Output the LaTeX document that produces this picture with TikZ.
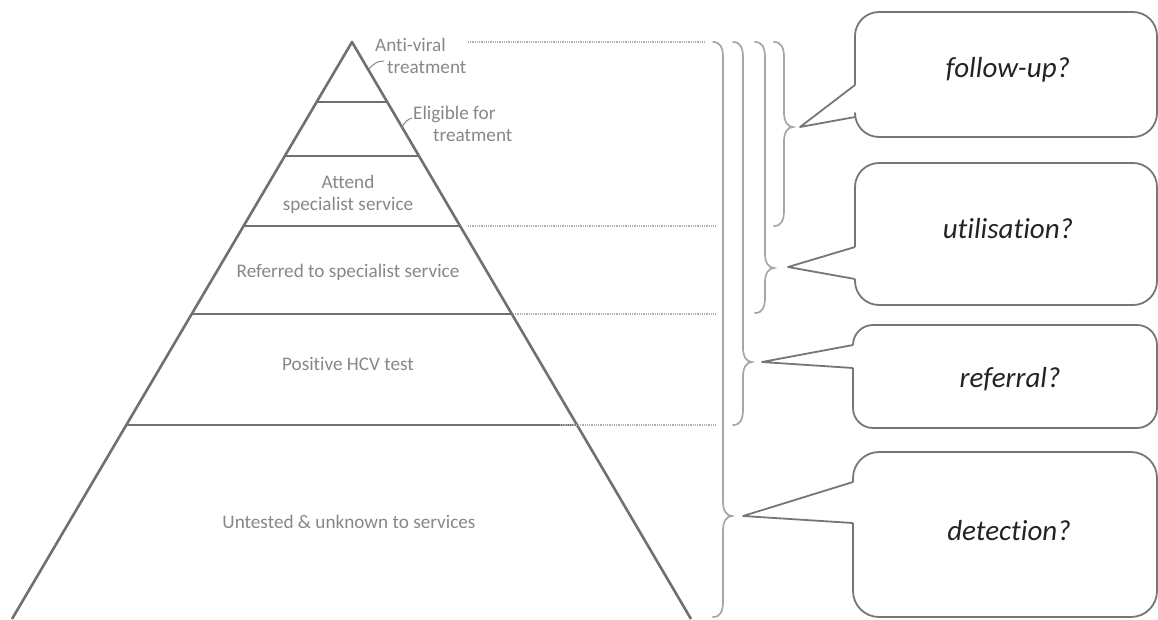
\documentclass[tikz,border=0pt]{standalone}
\usepackage{fontspec}
\setmainfont{Carlito}[Ligatures=NoCommon]
\usepackage{tikz}
\usetikzlibrary{calc}
\usepackage{xcolor}
\definecolor{edgegray}{RGB}{112,112,112}
\definecolor{bracegray}{RGB}{165,165,165}
\definecolor{dotgray}{RGB}{175,175,175}
\definecolor{labelgray}{RGB}{135,135,135}
\definecolor{bubblegray}{RGB}{118,118,118}
\definecolor{asktext}{RGB}{35,35,35}

\begin{document}
\begin{tikzpicture}[x=1pt, y=-1pt,
  layer/.style={edgegray, line width=2.6pt},
  tier/.style={labelgray, inner sep=0pt, font=\fontsize{19.2}{22}\selectfont},
  guide/.style={dotgray, line width=1.1pt, dash pattern=on 1pt off 0.8pt},
  brace/.style={bracegray, line width=1.7pt, line cap=round},
  bubble/.style={bubblegray, line width=1.8pt, line join=round},
  ask/.style={asktext, font=\fontsize{29}{34}\selectfont\itshape}]
  \useasboundingbox (0,0) rectangle (1158,619);
  \clip (0,0) rectangle (1158,619);

  % Pyramid
  \coordinate (apex) at (352,42);
  \coordinate (bl) at (12,619);
  \coordinate (br) at (691,619);
  \draw[layer, line join=round] (bl) -- (apex) -- (br);
  \foreach \y in {102,156,226,314,425}
    \draw[layer] ($(apex)!{(\y-42)/577}!(bl)$) -- ($(apex)!{(\y-42)/577}!(br)$);

  % Tier labels
  \node[tier, align=left, anchor=west] (antiviral) at (375,56) {Anti-viral\\\hspace*{12pt}treatment};
  \node[tier, align=left, anchor=west] (eligible) at (413,124) {Eligible for\\\hspace*{20pt}treatment};
  \node[tier, align=center] (attend) at (348,194) {Attend\\specialist service};
  \node[tier] (referred) at (348,272) {Referred to specialist service};
  \node[tier] (positive) at (348,364) {Positive HCV test};
  \node[tier] (untested) at (349,522) {Untested \& unknown to services};

  % Leaders to the top labels
  \draw[labelgray, line width=1pt] (369,69) .. controls (374,63) and (378,61) .. (384,61);
  \draw[labelgray, line width=1pt] (402,127) .. controls (405,122) and (408,119) .. (412,118);

  % Guide lines
  \draw[guide] (468,42) -- (705,42);
  \draw[guide] (468,226) -- (715,226);
  \draw[guide] (513,314) -- (715,314);
  \draw[guide] (560,425) -- (715,425);

  % Braces (x of spine, top, tip, bottom)
  \foreach \xs/\top/\tip/\bot/\name in {723/42/516/617/bdetect, 743/42/362/425/brefer, 765/42/268/313/butil, 784/42/127/226/bfollow} {
    \draw[brace] (\xs-10,\top) .. controls (\xs-3,\top) and (\xs,\top+5) .. (\xs,\top+16)
      -- (\xs,\tip-14) .. controls (\xs,\tip-5) and (\xs+4,\tip) .. (\xs+9,\tip)
      .. controls (\xs+4,\tip) and (\xs,\tip+5) .. (\xs,\tip+14)
      -- (\xs,\bot-16) .. controls (\xs,\bot-5) and (\xs-3,\bot) .. (\xs-10,\bot);
    \coordinate (\name) at (\xs+9,\tip);
  }

  % Callouts
  \draw[bubble, rounded corners=24] (855,115) -- (855,137) -- (1157,137) -- (1157,12) -- (855,12) -- (855,85);
  \draw[bubble] (855,85) -- (800,127) -- (855,117);
  \node[ask] (followup) at (1008,70) {follow-up?};

  \draw[bubble, rounded corners=24] (855,279) -- (855,305) -- (1157,305) -- (1157,163) -- (855,163) -- (855,247);
  \draw[bubble] (855,247) -- (788,267) -- (855,279);
  \node[ask] (utilisation) at (1008,229) {utilisation?};

  \draw[bubble, rounded corners=20] (853,368) -- (853,428) -- (1157,428) -- (1157,325) -- (853,325) -- (853,345);
  \draw[bubble] (853,345) -- (762,362) -- (853,368);
  \node[ask] (referral) at (1010,379) {referral?};

  \draw[bubble, rounded corners=26] (853,523) -- (853,617) -- (1157,617) -- (1157,452) -- (853,452) -- (853,482);
  \draw[bubble] (853,482) -- (743,516) -- (853,523);
  \node[ask] (detection) at (1009,531) {detection?};
\end{tikzpicture}
\end{document}
